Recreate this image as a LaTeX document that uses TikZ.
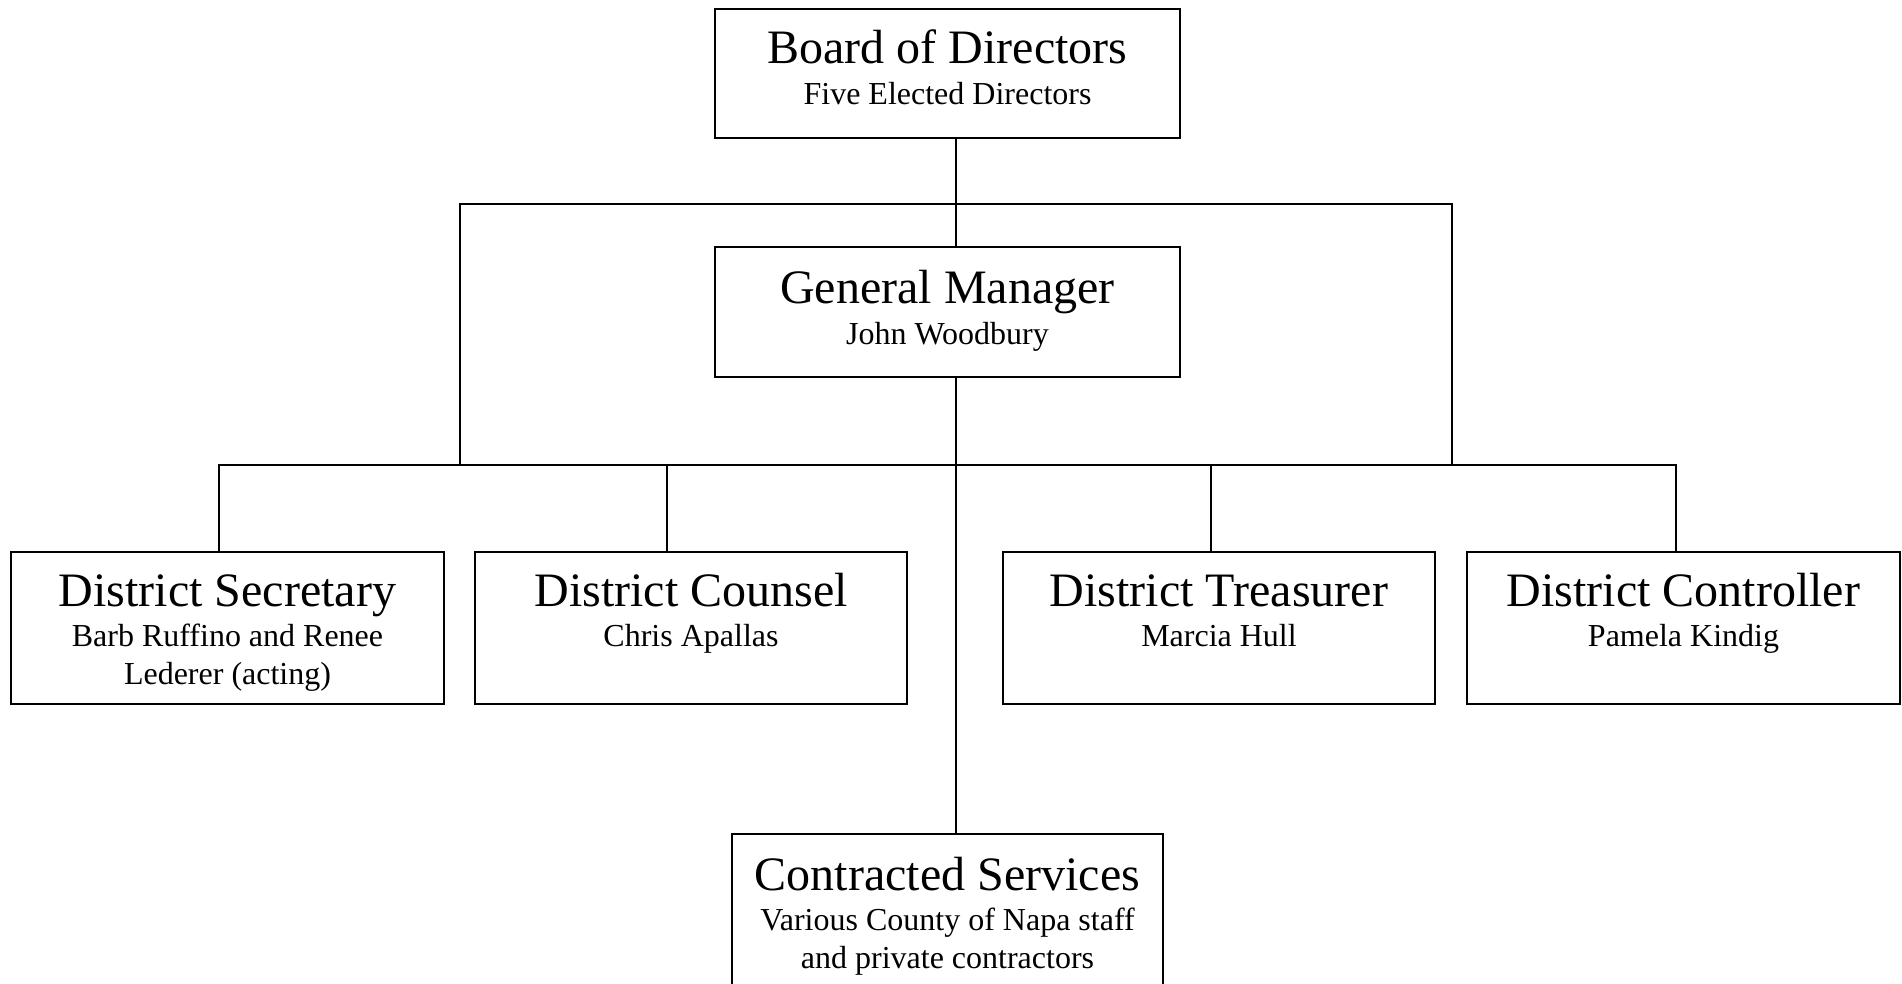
\documentclass[tikz,border=0pt]{standalone}
\usepackage{fontspec}
\setmainfont{Liberation Serif}
\begin{document}
\begin{tikzpicture}[x=1pt,y=-1pt,
  box/.style={draw=black,line width=1.6pt,rectangle,inner sep=0pt,minimum width=#1},
  box/.default=465pt,
  ttl/.style={anchor=base,inner sep=0pt,font=\fontsize{48}{56}\selectfont},
  sub/.style={anchor=base,inner sep=0pt,font=\fontsize{32}{38}\selectfont},
  conn/.style={line width=1.6pt,line cap=rect}]
\clip (0,0) rectangle (1902,983);
\fill[white] (0,0) rectangle (1902,983);
% boxes
\node[box=465pt,minimum height=129pt] (bod) at (947.5,73.5) {};
\node[box=465pt,minimum height=130pt] (gm) at (947.5,312) {};
\node[box=433pt,minimum height=152pt] (sec) at (227.5,628) {};
\node[box=432pt,minimum height=152pt] (cou) at (691,628) {};
\node[box=432pt,minimum height=152pt] (tre) at (1219,628) {};
\node[box=433pt,minimum height=152pt] (con) at (1683.5,628) {};
\node[box=431pt,minimum height=170pt] (cs) at (947.5,919) {};
% texts
\node[ttl] (bodT) at ([yshift=-55pt]bod.north) {Board of Directors};
\node[sub] (bodS) at ([yshift=-96pt]bod.north) {Five Elected Directors};
\node[ttl] (gmT) at ([yshift=-57pt]gm.north) {General Manager};
\node[sub] (gmS) at ([yshift=-98pt]gm.north) {John Woodbury};
\node[ttl] (secT) at ([yshift=-55pt]sec.north) {District Secretary};
\node[sub] (secS1) at ([yshift=-95pt]sec.north) {Barb Ruffino and Renee};
\node[sub] (secS2) at ([yshift=-133pt]sec.north) {Lederer (acting)};
\node[ttl] (couT) at ([yshift=-55pt]cou.north) {District Counsel};
\node[sub] (couS) at ([yshift=-95pt]cou.north) {Chris Apallas};
\node[ttl] (treT) at ([yshift=-55pt]tre.north) {District Treasurer};
\node[sub] (treS) at ([yshift=-95pt]tre.north) {Marcia Hull};
\node[ttl] (conT) at ([yshift=-55pt]con.north) {District Controller};
\node[sub] (conS) at ([yshift=-95pt]con.north) {Pamela Kindig};
\node[ttl] (csT) at ([yshift=-57pt]cs.north) {Contracted Services};
\node[sub] (csS1) at ([yshift=-97pt]cs.north) {Various County of Napa staff};
\node[sub] (csS2) at ([yshift=-135pt]cs.north) {and private contractors};
% connector coordinates
\coordinate (trunk) at (956,0);
\coordinate (b1L) at (460,204);
\coordinate (b1R) at (1452,204);
\coordinate (b2L) at (219,465);
\coordinate (b2R) at (1676,465);
\coordinate (xcou) at (667,465);
\coordinate (xtre) at (1211,465);
% connectors
\draw[conn] (bod.south -| trunk) -- (gm.north -| trunk);
\draw[conn] (gm.south -| trunk) -- (cs.north -| trunk);
\draw[conn] (b1L |- b2L) -- (b1L) -- (b1R) -- (b1R |- b2L);
\draw[conn] (b2L) -- (b2R);
\draw[conn] (b2L) -- (sec.north -| b2L);
\draw[conn] (xcou) -- (cou.north -| xcou);
\draw[conn] (xtre) -- (tre.north -| xtre);
\draw[conn] (b2R) -- (con.north -| b2R);
\end{tikzpicture}
\end{document}
